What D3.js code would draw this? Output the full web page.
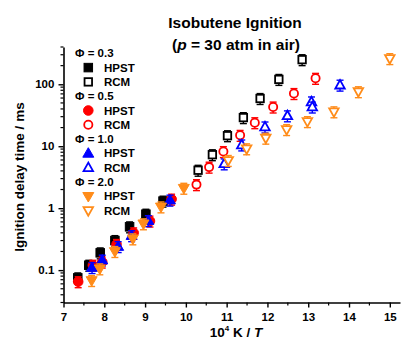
<!DOCTYPE html>
<html><head><meta charset="utf-8">
<script src="https://cdn.jsdelivr.net/npm/d3@7"></script>
<style>body{margin:0;background:#fff}svg{display:block;font-family:"Liberation Sans",Arial,sans-serif}</style>
</head><body><svg id="c" width="403" height="347"></svg>
<script>
// ---- data ----
const hpst03X = [7.35, 7.62, 7.9, 8.26, 8.62, 9.02, 9.44];
const hpst03Y = [0.075, 0.12, 0.19, 0.30, 0.50, 0.80, 1.3];
const rcm03X = [10.3, 10.65, 11.02, 11.41, 11.82, 12.28, 12.85];
const rcm03Y = [4.1, 7.3, 14.8, 29, 59, 120, 250];
const hpst05X = [7.36, 7.72, 7.95, 8.3, 8.72, 9.12, 9.65];
const hpst05Y = [0.065, 0.12, 0.135, 0.26, 0.40, 0.62, 1.4];
const rcm05X = [10.26, 10.57, 10.92, 11.33, 11.69, 12.14, 12.65, 13.18];
const rcm05Y = [2.4, 4.6, 8.2, 15, 24, 43, 71, 125];
const hpst10X = [7.7, 7.95, 8.34, 8.67, 9.08, 9.61];
const hpst10Y = [0.11, 0.145, 0.24, 0.36, 0.63, 1.35];
const rcm10X = [10.94, 11.37, 11.94, 12.49, 13.08, 13.1, 13.78];
const rcm10Y = [5.2, 10.5, 20.5, 31, 52, 43, 97];
const hpst20X = [7.69, 7.89, 8.26, 8.7, 8.96, 9.39, 9.95];
const hpst20Y = [0.068, 0.105, 0.2, 0.32, 0.56, 1.05, 2.1];
const rcm20X = [11.04, 11.49, 11.96, 12.47, 12.98, 13.63, 14.23, 15.0];
const rcm20Y = [5.9, 9.1, 13.5, 18.6, 25, 36, 76, 260];
const relErr = [0.2, 0.2, 0.2, 0.2, 0.2, 0.2, 0.2, 0.2];
const xTicks = [7, 8, 9, 10, 11, 12, 13, 14, 15];
const yTicks = [0.1, 1, 10, 100];
const yTickLabels = ["0.1", "1", "10", "100"];
const legendGroups = ["Φ = 0.3", "Φ = 0.5", "Φ = 1.0", "Φ = 2.0"];
const legendItems = ["HPST", "RCM"];

const colors = ["#000000", "#ff0000", "#0000ff", "#ff8c1a"];
const shapes = ["square", "circle", "triUp", "triDown"];

const svg = d3.select("#c");
const x = d3.scaleLinear().domain([7, 15.25]).range([63.5, 400]);
const y = d3.scaleLog().domain([0.03, 400]).range([302.5, 47]);

// axes
const xAxis = d3.axisBottom(x).tickValues(xTicks).tickFormat(d3.format("d")).tickSize(5).tickSizeOuter(0);
const gx = svg.append("g").attr("transform", "translate(0,302.5)").call(xAxis);
const xMinor = d3.range(7.5, 15.25, 1);
gx.selectAll(".minor").data(xMinor).enter().append("line").attr("class","minor")
  .attr("x1", d => x(d)).attr("x2", d => x(d)).attr("y1", 0).attr("y2", 3).attr("stroke", "#000").attr("stroke-width", 1.2);

const yAxis = d3.axisLeft(y).tickValues(yTicks).tickFormat((d,i) => yTickLabels[i]).tickSize(5).tickSizeOuter(0);
const gy = svg.append("g").attr("transform", "translate(63.5,0)").call(yAxis);
const yMinor = [];
[0.01, 0.1, 1, 10, 100].forEach(dec => { for (let k = 2; k <= 9; k++) { const v = dec * k; if (v >= 0.03 && v <= 400) yMinor.push(v); } });
gy.selectAll(".minor").data(yMinor).enter().append("line").attr("class","minor")
  .attr("x1", -3).attr("x2", 0).attr("y1", d => y(d)).attr("y2", d => y(d)).attr("stroke", "#000").attr("stroke-width", 1.2);

[gx, gy].forEach(g => {
  g.select(".domain").attr("stroke-width", 1.6);
  g.selectAll(".tick line").attr("stroke-width", 1.4);
  g.selectAll("text").attr("font-size", 11.5).attr("font-weight", "bold").attr("font-family", "Liberation Sans, Arial, sans-serif").attr("fill", "#000");
});
gx.selectAll(".tick text").attr("dy", "0.95em");
gy.selectAll(".tick text").attr("dx", "-0.1em");

// symbols
function drawMarker(g, shape, cx, cy, color, filled) {
  const fill = filled ? color : "#fff";
  const sw = filled ? 1 : 1.8;
  if (shape === "square") {
    const s = filled ? 8.5 : 7.5;
    g.append("rect").attr("x", cx - s/2).attr("y", cy - s/2).attr("width", s).attr("height", s)
      .attr("fill", fill).attr("stroke", color).attr("stroke-width", sw);
  } else if (shape === "circle") {
    g.append("circle").attr("cx", cx).attr("cy", cy).attr("r", filled ? 4.8 : 4.1)
      .attr("fill", fill).attr("stroke", color).attr("stroke-width", sw);
  } else {
    const h = filled ? 9.5 : 8.5, w = filled ? 11 : 9.5;
    const dir = shape === "triUp" ? 1 : -1;
    const pts = [[cx, cy - dir*h*0.6], [cx - w/2, cy + dir*h*0.4], [cx + w/2, cy + dir*h*0.4]];
    g.append("path").attr("d", "M" + pts.map(p => p.join(",")).join("L") + "Z")
      .attr("fill", fill).attr("stroke", color).attr("stroke-width", sw).attr("stroke-linejoin", "miter");
  }
}

const series = [
  {xs: hpst03X, ys: hpst03Y, c: 0, filled: true},
  {xs: rcm03X, ys: rcm03Y, c: 0, filled: false},
  {xs: hpst05X, ys: hpst05Y, c: 1, filled: true},
  {xs: rcm05X, ys: rcm05Y, c: 1, filled: false},
  {xs: hpst10X, ys: hpst10Y, c: 2, filled: true},
  {xs: rcm10X, ys: rcm10Y, c: 2, filled: false},
  {xs: hpst20X, ys: hpst20Y, c: 3, filled: true},
  {xs: rcm20X, ys: rcm20Y, c: 3, filled: false}
];

const plot = svg.append("g");
series.forEach((s, si) => {
  const col = colors[s.c];
  const g = plot.append("g");
  s.xs.forEach((xv, i) => {
    const yv = s.ys[i];
    const px = x(xv);
    const yHi = y(yv * (1 + relErr[si])), yLo = y(yv * (1 - relErr[si]));
    g.append("line").attr("x1", px).attr("x2", px).attr("y1", yHi).attr("y2", yLo).attr("stroke", col).attr("stroke-width", 1.4);
    [yHi, yLo].forEach(yy => g.append("line").attr("x1", px - 3.5).attr("x2", px + 3.5).attr("y1", yy).attr("y2", yy).attr("stroke", col).attr("stroke-width", 1.4));
    drawMarker(g, shapes[s.c], px, y(yv), col, s.filled);
  });
});

// legend
const lg = svg.append("g").attr("font-weight", "bold").attr("font-size", 11.5);
const rowH = 14.3;
legendGroups.forEach((lab, gi) => {
  const y0 = 53.3 + gi * 3 * rowH;
  lg.append("text").attr("x", 75).attr("y", y0 + 4).text(lab);
  legendItems.forEach((it, ii) => {
    const yy = y0 + (ii + 1) * rowH;
    drawMarker(lg, shapes[gi], 88.3, yy, colors[gi], ii === 0);
    lg.append("text").attr("x", 104).attr("y", yy + 4).text(it);
  });
});

// titles
const t = svg.append("g").attr("font-weight", "bold").attr("font-size", 15.5).attr("text-anchor", "middle");
t.append("text").attr("x", 235).attr("y", 28).text("Isobutene Ignition");
const t2 = t.append("text").attr("x", 236).attr("y", 50);
t2.append("tspan").text("(");
t2.append("tspan").attr("font-style", "italic").text("p");
t2.append("tspan").text(" = 30 atm in air)");

const xl = svg.append("text").attr("x", 236).attr("y", 337).attr("text-anchor", "middle").attr("font-weight", "bold").attr("font-size", 13.5);
xl.append("tspan").text("10");
xl.append("tspan").attr("dy", -6).attr("font-size", 8).text("4");
xl.append("tspan").attr("dy", 6).text(" K / ");
xl.append("tspan").attr("font-style", "italic").text("T");

svg.append("text").attr("transform", "translate(24,177) rotate(-90)").attr("text-anchor", "middle")
  .attr("font-weight", "bold").attr("font-size", 13.5).text("Ignition delay time / ms");
</script></body></html>
